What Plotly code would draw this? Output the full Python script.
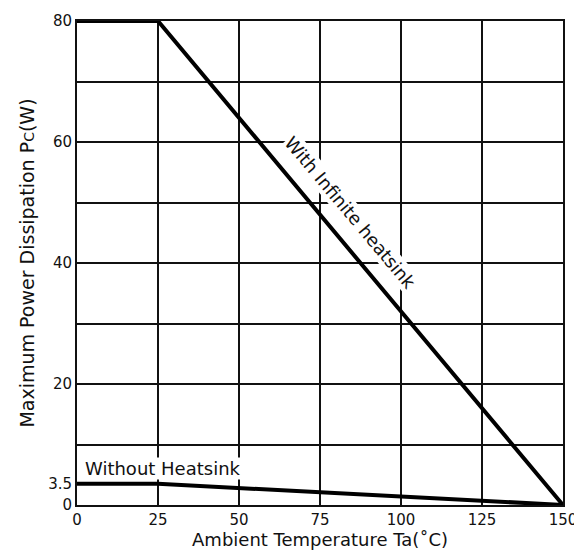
import plotly.graph_objects as go

# derating curves
temp_inf = [0, 25, 150]
pc_inf = [80, 80, 0]
temp_none = [0, 25, 150]
pc_none = [3.5, 3.5, 0]

y_tickvals = [0, 3.5, 20, 40, 60, 80]
y_ticktext = ["0", "3.5", "20", "40", "60", "80"]
x_tickvals = [0, 25, 50, 75, 100, 125, 150]

FONT = "DejaVu Sans, Arial, sans-serif"

fig = go.Figure()

# dummy trace so the grid axis is drawn
fig.add_trace(go.Scatter(x=[0, 150], y=[0, 80], mode="lines", line=dict(width=0),
                         hoverinfo="skip", showlegend=False, yaxis="y2"))

fig.add_trace(go.Scatter(x=temp_inf, y=pc_inf, mode="lines",
                         line=dict(color="black", width=4), showlegend=False))
fig.add_trace(go.Scatter(x=temp_none, y=pc_none, mode="lines",
                         line=dict(color="black", width=4), showlegend=False))

# page body has an 8px margin, so the figure is smaller than the window
fig.update_layout(
    width=574, height=542,
    paper_bgcolor="white", plot_bgcolor="white",
    margin=dict(l=69, r=19, t=13, b=45),
    font=dict(family=FONT, color="#111", size=15),
    xaxis=dict(
        range=[0, 150], tickvals=x_tickvals, automargin=False,
        showgrid=True, gridcolor="#111", gridwidth=1.8,
        showline=True, linecolor="#111", linewidth=2, mirror=True,
        zeroline=False, ticks="", tickfont=dict(size=15),
        title=dict(text="Ambient Temperature Ta(˚C)", font=dict(size=18), standoff=5),
    ),
    yaxis=dict(
        range=[0, 80], tickvals=y_tickvals, ticktext=y_ticktext, automargin=False,
        showgrid=False,
        showline=True, linecolor="#111", linewidth=2, mirror=True,
        zeroline=False, ticks="", tickfont=dict(size=15),
        title=dict(text="Maximum Power Dissipation P<span style='font-size:14px'>C</span>(W)",
                   font=dict(size=19), standoff=8),
    ),
    yaxis2=dict(
        range=[0, 80], overlaying="y", side="left", dtick=10, automargin=False,
        showgrid=True, gridcolor="#111", gridwidth=1.8,
        showticklabels=False, zeroline=False, ticks="", showline=False,
    ),
    annotations=[
        dict(x=84.3, y=48.3, xref="x", yref="y", text="With Infinite heatsink",
             textangle=50, showarrow=False, bgcolor="white", borderpad=0,
             font=dict(size=18, family=FONT)),
        dict(x=2.2, y=6.1, xref="x", yref="y", text="Without Heatsink",
             xanchor="left", showarrow=False, bgcolor="white", borderpad=0,
             font=dict(size=18, family=FONT)),
    ],
)

fig.write_html("out.html")
